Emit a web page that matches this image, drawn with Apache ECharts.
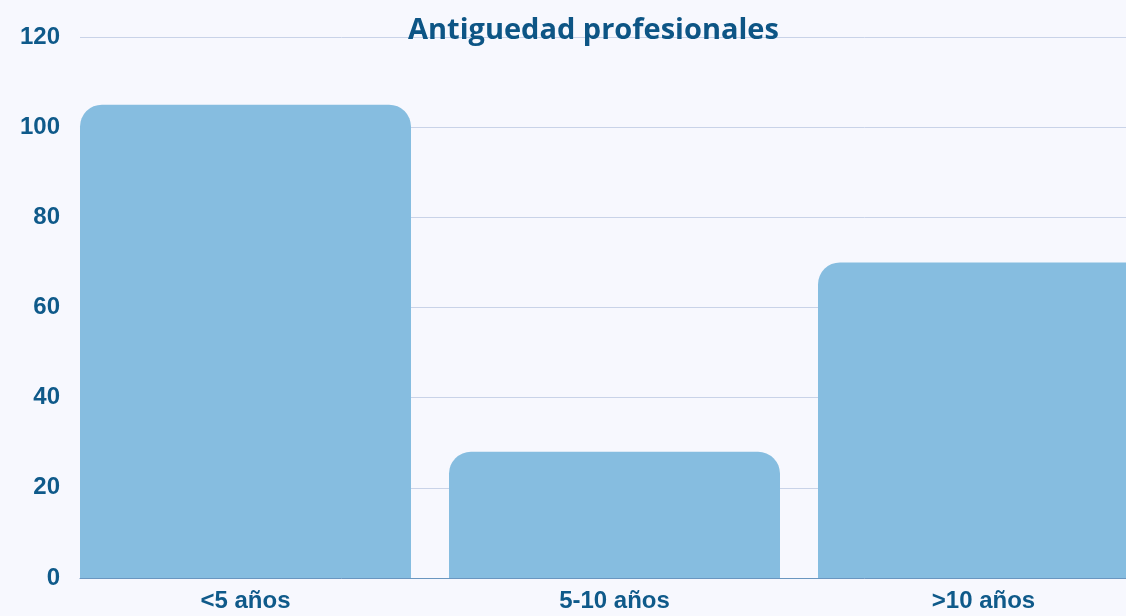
<!DOCTYPE html>
<html>
<head>
<meta charset="utf-8">
<script src="https://cdn.jsdelivr.net/npm/echarts@6/dist/echarts.min.js"></script>
<style>html,body{margin:0;padding:0;background:#f7f8fe;}#c{width:1126px;height:616px;}</style>
</head>
<body>
<div id="c"></div>
<script>
const categories = ['<5 años', '5-10 años', '>10 años'];
const values = [105, 28, 70];
const yTicks = { min: 0, max: 120, interval: 20 };

const chart = echarts.init(document.getElementById('c'));
chart.setOption({
  backgroundColor: '#f7f8fe',
  animation: false,
  title: {
    text: 'Antiguedad profesionales',
    left: 403,
    top: 11,
    textStyle: { fontFamily: 'Open Sans', fontWeight: 'bold', fontSize: 29, color: '#0d5585' }
  },
  grid: [
    { left: 80, right: 0, top: 37, bottom: 38, outerBoundsMode: 'none' },
    { left: 61, right: -42, top: 37, bottom: 38, outerBoundsMode: 'none' }
  ],
  xAxis: [
    { gridIndex: 0, type: 'category', data: categories, axisLine: { show: true, lineStyle: { color: '#6a96c0', width: 1 } },
      axisTick: { show: false }, axisLabel: { show: false } },
    { gridIndex: 1, type: 'category', data: categories, axisLine: { show: false }, axisTick: { show: false },
      axisLabel: { color: '#0f5a8a', fontFamily: 'Liberation Sans', fontWeight: 'bold', fontSize: 24, margin: 11 } }
  ],
  yAxis: [
    { gridIndex: 0, type: 'value', min: yTicks.min, max: yTicks.max, interval: yTicks.interval,
      axisLabel: { color: '#0f5a8a', fontFamily: 'Liberation Sans', fontWeight: 'bold', fontSize: 24, margin: 20, padding: [5, 0, 0, 0] },
      splitLine: { lineStyle: { color: '#c9d3e8', width: 1 } }, axisLine: { show: false }, axisTick: { show: false } },
    { gridIndex: 1, type: 'value', min: yTicks.min, max: yTicks.max, interval: yTicks.interval, show: false,
      splitLine: { show: false } }
  ],
  series: [{
    type: 'bar',
    xAxisIndex: 1,
    yAxisIndex: 1,
    data: values,
    barCategoryGap: '10.3%',
    itemStyle: { color: '#86bde0', borderRadius: [22, 22, 0, 0] }
  }]
});
</script>
</body>
</html>
